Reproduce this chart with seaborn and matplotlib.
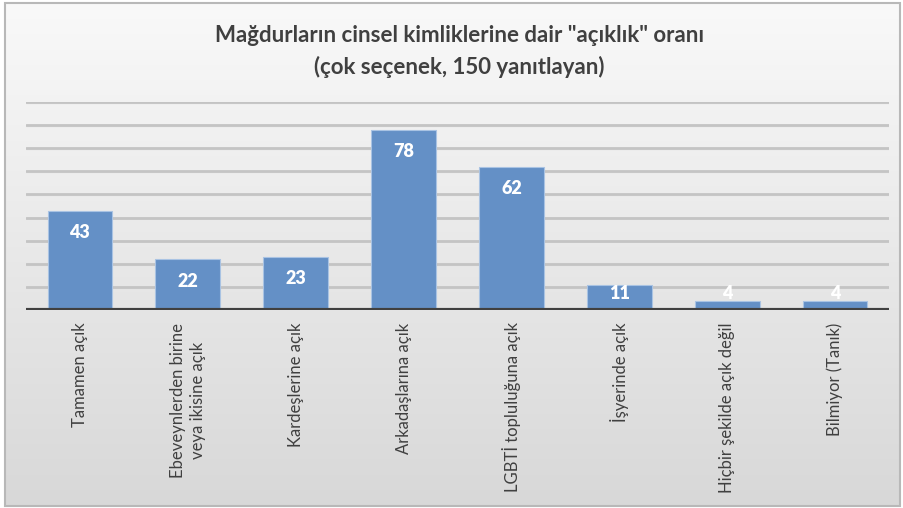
import numpy as np
import pandas as pd
import matplotlib
matplotlib.use('Agg')
import matplotlib.pyplot as plt
import seaborn as sns

# Data
categories = ['Tamamen açık',
              'Ebeveynlerden birine\nveya ikisine açık',
              'Kardeşlerine açık',
              'Arkadaşlarına açık',
              'LGBTİ topluluğuna açık',
              'İşyerinde açık',
              'Hiçbir şekilde açık değil',
              'Bilmiyor (Tanık)']
values = [43, 22, 23, 78, 62, 11, 4, 4]

title = 'Mağdurların cinsel kimliklerine dair "açıklık" oranı\n(çok seçenek, 150 yanıtlayan)'

df = pd.DataFrame({'cat': categories, 'val': values})

sns.set_theme(style='white')
plt.rcParams['font.family'] = ['Lato', 'DejaVu Sans']

fig = plt.figure(figsize=(9.04, 5.08), dpi=100)
fig.patch.set_facecolor('white')

# gradient background inside a grey frame
bg = fig.add_axes([0, 0, 1, 1], zorder=-10)
grad = np.linspace(0.0, 1.0, 256).reshape(-1, 1)
grad = np.hstack([grad, grad])
cmap = matplotlib.colors.LinearSegmentedColormap.from_list('g', ['#d8d8d8', '#f9f9f9'])
bg.imshow(grad, aspect='auto', cmap=cmap, extent=[0.005, 0.996, 0.004, 0.994], origin='lower')
bg.add_patch(plt.Rectangle((0.005, 0.004), 0.991, 0.99, fill=False,
                           edgecolor='#b8b8b8', linewidth=1.5))
bg.set_xlim(0, 1)
bg.set_ylim(0, 1)
bg.axis('off')

ax = fig.add_axes([26 / 904, (508 - 310) / 508, (889 - 26) / 904, (310 - 102) / 508])
ax.patch.set_alpha(0)

sns.barplot(data=df, x='cat', y='val', ax=ax, color='#6490c6', width=0.6,
            edgecolor='#a9c3e3', linewidth=0.8, saturation=1, zorder=3)

ax.set_ylim(0, 90)
ax.set_yticks(range(10, 91, 10))
for y in range(10, 91, 10):
    ax.axhline(y, color='#c4c4c4', linewidth=2.0, zorder=1)
    ax.axhline(y - 0.35, color='#e4e4e4', linewidth=1.0, zorder=0.9)
ax.axhline(0, color='#404040', linewidth=3, zorder=4)
ax.set_yticklabels([])
ax.tick_params(axis='y', length=0)
ax.tick_params(axis='x', length=0, pad=9)
for s in ax.spines.values():
    s.set_visible(False)
ax.set_xlabel('')
ax.set_ylabel('')

ax.set_xticks(range(len(categories)))
ax.set_xticklabels(categories, rotation=90, ha='center', va='top',
                   fontsize=12, color='#404040', linespacing=1.3)

for i, v in enumerate(values):
    ax.text(i, max(v - 9.5, 7.2), str(v), ha='center', va='center',
            color='white', fontsize=13, fontweight='heavy', zorder=5)

fig.text(0.508, 0.898, title, ha='center', va='center', fontsize=16,
         fontweight='bold', color='#404040', linespacing=1.55)

fig.savefig('out.png', dpi=100)
